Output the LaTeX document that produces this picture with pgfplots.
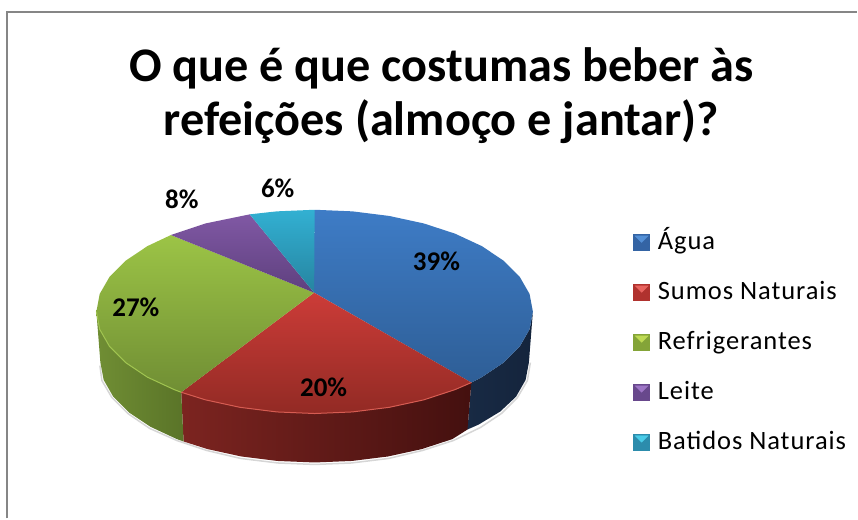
\documentclass[border=0pt]{standalone}
\usepackage{pgfplots}
\pgfplotsset{compat=1.18}
\usepackage{fontspec}
\setmainfont{Carlito}

\definecolor{frameg}{RGB}{134,134,134}
\definecolor{swA}{RGB}{52,100,164}\definecolor{swAl}{RGB}{84,144,214}
\definecolor{swB}{RGB}{176,50,46}\definecolor{swBl}{RGB}{232,100,95}
\definecolor{swC}{RGB}{132,164,56}\definecolor{swCl}{RGB}{190,218,84}
\definecolor{swD}{RGB}{104,72,140}\definecolor{swDl}{RGB}{158,118,198}
\definecolor{swE}{RGB}{44,140,172}\definecolor{swEl}{RGB}{74,204,232}
\newcommand{\swatch}[2]{\addlegendimage{legend image code/.code={
  \fill[#1] (0pt,-6.5pt) rectangle (16pt,9.5pt);
  \fill[#2] (1.5pt,8pt) -- (14.5pt,8pt) -- (8pt,1.5pt) -- cycle;
}}}
\newcommand{\lblfont}{\fontsize{27}{27}\selectfont\bfseries}

\begin{document}
\begin{tikzpicture}
\begin{axis}[
    scale only axis,
    width=858pt,
    height=519pt,
    xmin=0, xmax=858,
    ymin=0, ymax=519,
    y dir=reverse,
    ticks=none,
    axis line style={draw=none},
    clip=false,
    title={O que é que costumas beber às\\refeições (almoço e jantar)?},
    title style={at={(axis cs:442,102)}, anchor=center, align=center,
        font=\fontsize{48.3}{54}\selectfont\bfseries},
    legend style={at={(axis cs:634,233.5)}, anchor=north west, draw=none, fill=none,
        row sep=29pt, column sep=8pt, inner sep=0pt, legend cell align=left,
        nodes={anchor=west, inner sep=0pt, text height=16pt, text depth=5pt,
               font=\fontsize{26.5}{26.5}\selectfont\addfontfeatures{LetterSpace=3.6}}},
]
% frame
\addplot[frameg, line width=2pt, forget plot] coordinates {(7,519) (7,12) (858,12)};

% soft shadow under the side wall
\addplot[black!16, line width=1.5pt, forget plot] coordinates {
(531,363) (528,381) (518,398) (502,414) (481,428) (454,441) (423,451) (389,459) (352,463.5) (315,465)
(278,463.5) (241,459) (207,451) (177,441) (150,429) (128,414) (112,398) (102,381) (100,366)};

% side walls
\addplot[draw=none, forget plot, left color={rgb,255:red,24;green,42;blue,68}, right color={rgb,255:red,20;green,36;blue,60}] coordinates {
(533.5,312) (530.2,329.7) (520.3,346.9) (504.2,363) (482.4,377.6) (471.9,383)
(468,430) (479.3,425) (500.8,412) (516.6,397.2) (526.2,380.4) (529.5,363)} -- cycle;
\addplot[draw=none, forget plot, left color={rgb,255:red,124;green,36;blue,32}, right color={rgb,255:red,68;green,16;blue,15}] coordinates {
(471.9,383) (455.5,390.1) (424.3,400.3) (389.7,407.8) (352.9,412.4) (315,414) (277.1,412.4) (240.3,407.8) (205.7,400.3) (181.4,392.7)
(183.8,442) (207.7,449.6) (241.6,457) (277.8,461.5) (315,463) (352.2,461.5) (388.4,457) (422.3,449.6) (452.9,439.6) (468,430)} -- cycle;
\addplot[draw=none, forget plot, left color={rgb,255:red,112;green,142;blue,52}, right color={rgb,255:red,90;green,116;blue,40}] coordinates {
(181.4,392.7) (174.5,390.1) (147.6,377.6) (125.8,363) (109.7,346.9) (99.8,329.7) (96.5,312)
(100.5,363) (103.8,380.4) (113.4,397.2) (129.2,413) (150.7,427.3) (177.1,439.6) (183.8,442)} -- cycle;

% top faces
\addplot[draw=none, forget plot, top color={rgb,255:red,62;green,124;blue,198}, bottom color={rgb,255:red,46;green,94;blue,150}] coordinates {
(314.5,293) (315,210) (352.9,211.6) (389.7,216.2) (424.3,223.7) (455.5,233.9) (482.4,246.4) (504.2,261) (520.3,277.1) (530.2,294.3) (533.5,312)
(530.2,329.7) (520.3,346.9) (504.2,363) (482.4,377.6) (471.9,383)} -- cycle;
\addplot[draw=none, forget plot, top color={rgb,255:red,204;green,60;blue,56}, bottom color={rgb,255:red,146;green,42;blue,36}] coordinates {
(314.5,293) (471.9,383) (455.5,390.1) (424.3,400.3) (389.7,407.8) (352.9,412.4) (315,414) (277.1,412.4) (240.3,407.8) (205.7,400.3) (181.4,392.7)} -- cycle;
\addplot[draw=none, forget plot, top color={rgb,255:red,156;green,196;blue,70}, bottom color={rgb,255:red,112;green,142;blue,52}] coordinates {
(314.5,293) (181.4,392.7) (174.5,390.1) (147.6,377.6) (125.8,363) (109.7,346.9) (99.8,329.7) (96.5,312) (99.8,294.3) (109.7,277.1) (125.8,261) (147.6,246.4) (171.1,235.3)} -- cycle;
\addplot[draw=none, forget plot, top color={rgb,255:red,128;green,88;blue,164}, bottom color={rgb,255:red,94;green,64;blue,126}] coordinates {
(314.5,293) (171.1,235.3) (205.7,223.7) (250,214.6)} -- cycle;
\addplot[draw=none, forget plot, top color={rgb,255:red,50;green,176;blue,210}, bottom color={rgb,255:red,38;green,132;blue,160}] coordinates {
(314.5,293) (250,214.6) (277.1,211.6) (315,210)} -- cycle;

% light rim along the front edge
\addplot[line width=1pt, forget plot, color={rgb,255:red,214;green,92;blue,82}] coordinates {
(471.9,383) (455.5,390.1) (424.3,400.3) (389.7,407.8) (352.9,412.4) (315,414) (277.1,412.4) (240.3,407.8) (205.7,400.3) (181.4,392.7)};
\addplot[line width=1pt, forget plot, color={rgb,255:red,160;green,196;blue,80}] coordinates {
(181.4,392.7) (174.5,390.1) (147.6,377.6) (125.8,363) (109.7,346.9) (99.8,329.7) (96.5,312)};

% data labels
\node[font=\lblfont] at (axis cs:437,262) {39\%};
\node[font=\lblfont] at (axis cs:324,388) {20\%};
\node[font=\lblfont] at (axis cs:136,308) {27\%};
\node[font=\lblfont] at (axis cs:182,200) {8\%};
\node[font=\lblfont] at (axis cs:278,189) {6\%};

% legend
\swatch{swA}{swAl}
\addlegendentry{Água}
\swatch{swB}{swBl}
\addlegendentry{Sumos Naturais}
\swatch{swC}{swCl}
\addlegendentry{Refrigerantes}
\swatch{swD}{swDl}
\addlegendentry{Leite}
\swatch{swE}{swEl}
\addlegendentry{Batidos Naturais}
\end{axis}
\end{tikzpicture}
\end{document}
